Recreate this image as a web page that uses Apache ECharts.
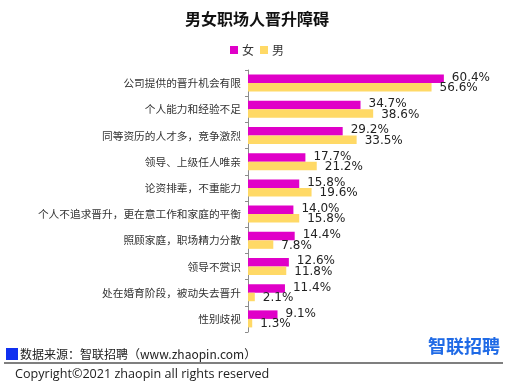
<!DOCTYPE html>
<html><head><meta charset="utf-8">
<script src="https://cdn.jsdelivr.net/npm/echarts@6/dist/echarts.min.js"></script>
<style>html,body{margin:0;padding:0;background:#fff}#c{width:514px;height:385px}</style>
</head><body><div id="c"></div>
<script>
var categories = ['公司提供的晋升机会有限','个人能力和经验不足','同等资历的人才多，竞争激烈','领导、上级任人唯亲','论资排辈，不重能力','个人不追求晋升，更在意工作和家庭的平衡','照顾家庭，职场精力分散','领导不赏识','处在婚育阶段，被动失去晋升','性别歧视'];
var female = [60.4,34.7,29.2,17.7,15.8,14.0,14.4,12.6,11.4,9.1];
var male = [56.6,38.6,33.5,21.2,19.6,15.8,7.8,11.8,2.1,1.3];
var seriesNames = ['女','男'];

var chart = echarts.init(document.getElementById('c'), null, {renderer:'canvas'});
var cjk = '"Noto Sans CJK SC", sans-serif';
function lbl(off){
  return {show:true, position:'right', distance:8, offset:[0,off], color:'#222',
    fontFamily:'"DejaVu Sans", sans-serif', fontSize:12,
    formatter:function(p){return p.value.toFixed(1)+'%';}};
}
chart.setOption({
  animation:false,
  title:{text:'男女职场人晋升障碍', left:'center', top:6,
    textStyle:{fontFamily:cjk, fontSize:16, fontWeight:'bold', color:'#111'}},
  legend:{data:seriesNames, left:'center', top:39, itemWidth:8, itemHeight:8, itemGap:6,
    icon:'rect', textStyle:{fontFamily:cjk, fontSize:12, color:'#333', padding:[0,0,0,-1]}},
  grid:{left:248, right:39, top:70, bottom:53, containLabel:false},
  xAxis:{type:'value', min:0, max:70, show:false},
  yAxis:{type:'category', data:categories, inverse:true,
    axisLine:{show:true, lineStyle:{color:'#8c8c8c', width:1}},
    axisTick:{show:true, length:3, inside:false, lineStyle:{color:'#8c8c8c'}},
    axisLabel:{margin:7, fontFamily:cjk, fontSize:10.7, color:'#333'}},
  series:[
    {name:seriesNames[0], type:'bar', data:female, barGap:'0%', barCategoryGap:'35%',
      itemStyle:{color:'#E000C8'}, label:lbl(-1)},
    {name:seriesNames[1], type:'bar', data:male,
      itemStyle:{color:'#FFD966'}, label:lbl(1)}
  ],
  graphic:[
    {type:'rect', shape:{x:6, y:348, width:12, height:12}, style:{fill:'#1030F0'}},
    {type:'text', x:20, y:354, style:{text:'数据来源：智联招聘（www.zhaopin.com）', fontFamily:cjk, fontSize:12, fill:'#222', textVerticalAlign:'middle'}},
    {type:'text', x:428, y:346, style:{text:'智联招聘', fontFamily:cjk, fontSize:18, fontWeight:'bold', fill:'#1F6AE6', textVerticalAlign:'middle'}},
    {type:'line', shape:{x1:4, y1:363, x2:503, y2:363}, style:{stroke:'#555', lineWidth:1.5}},
    {type:'text', x:15, y:374, style:{text:'Copyright©2021 zhaopin all rights reserved', fontFamily:'"Open Sans", sans-serif', fontSize:12.6, fill:'#222', textVerticalAlign:'middle'}}
  ]
});
</script>
</body></html>
